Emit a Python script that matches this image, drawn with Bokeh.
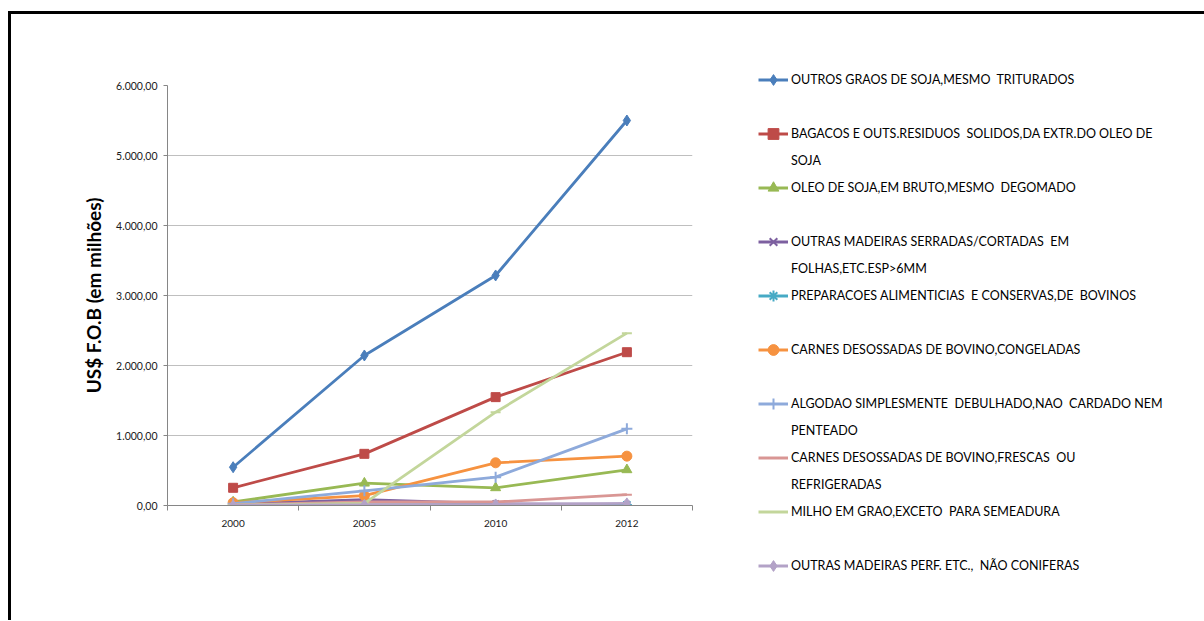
from bokeh.plotting import figure
from bokeh.models import Range1d, LinearAxis, FixedTicker, Legend, LegendItem
from bokeh.layouts import row
from bokeh.embed import file_html
from bokeh.resources import INLINE

# ---------------- data ----------------
years = ["2000", "2005", "2010", "2012"]

outros_graos = [547, 2143, 3286, 5500]
bagacos = [253, 738, 1548, 2190]
oleo_bruto = [50, 319, 253, 510]
madeiras_serradas = [20, 85, 25, 15]
preparacoes = [5, 10, 12, 8]
carnes_congeladas = [40, 140, 610, 705]
algodao = [25, 210, 405, 1095]
carnes_frescas = [10, 50, 50, 155]
milho = [5, 30, 1333, 2462]
madeiras_perf = [2, 10, 15, 30]

series_values = [outros_graos, bagacos, oleo_bruto, madeiras_serradas, preparacoes,
                 carnes_congeladas, algodao, carnes_frescas, milho, madeiras_perf]

series_labels = [
    ["OUTROS GRAOS DE SOJA,MESMO  TRITURADOS"],
    ["BAGACOS E OUTS.RESIDUOS  SOLIDOS,DA EXTR.DO OLEO DE", "SOJA"],
    ["OLEO DE SOJA,EM BRUTO,MESMO  DEGOMADO"],
    ["OUTRAS MADEIRAS SERRADAS/CORTADAS  EM", "FOLHAS,ETC.ESP>6MM"],
    ["PREPARACOES ALIMENTICIAS  E CONSERVAS,DE  BOVINOS"],
    ["CARNES DESOSSADAS DE BOVINO,CONGELADAS"],
    ["ALGODAO SIMPLESMENTE  DEBULHADO,NAO  CARDADO NEM", "PENTEADO"],
    ["CARNES DESOSSADAS DE BOVINO,FRESCAS  OU", "REFRIGERADAS"],
    ["MILHO EM GRAO,EXCETO  PARA SEMEADURA"],
    ["OUTRAS MADEIRAS PERF. ETC.,  NÃO CONIFERAS"],
]

y_ticks = [0, 1000, 2000, 3000, 4000, 5000, 6000]

# category slots: each year occupies one unit, point at the slot centre
cat_pos = [i + 0.5 for i in range(len(years))]
cat_edges = list(range(len(years) + 1))

# ---------------- styles ----------------
colors = ["#4A7EBB", "#BE4B48", "#98B954", "#7D60A0", "#46AAC5",
          "#F69240", "#8EAADB", "#D99694", "#C3D69B", "#B3A2C7"]
markers = ["diamond", "square", "triangle", "x", "asterisk",
           "circle", "cross", "dash", "dash", "diamond"]
msizes = [11, 9, 10, 9, 10, 10, 11, 10, 10, 11]

TICK_FONT = "Lato"
LEG_FONT = "Lato"


def br_fmt(v):
    s = f"{v:,.2f}"
    return s.replace(",", "X").replace(".", ",").replace("X", ".")


# ---------------- chart ----------------
p1 = figure(width=737, height=599, x_range=Range1d(0, len(years)), y_range=Range1d(0, 6000),
            x_axis_location=None, toolbar_location=None, output_backend="svg",
            min_border_left=156, min_border_right=56, min_border_top=71, min_border_bottom=108)
p1.frame_align = False
p1.outline_line_color = None
p1.xgrid.grid_line_color = None
p1.ygrid.grid_line_color = "#BFBFBF"
p1.ygrid.grid_line_width = 1
p1.ygrid.ticker = FixedTicker(ticks=y_ticks)

yax = p1.yaxis[0]
yax.ticker = FixedTicker(ticks=y_ticks, minor_ticks=[])
yax.major_label_overrides = {t: br_fmt(t) for t in y_ticks}
yax.axis_line_color = "#868686"
yax.major_tick_line_color = "#868686"
yax.major_tick_out = 4
yax.major_tick_in = 0
yax.minor_tick_line_color = None
yax.major_label_standoff = 6
yax.major_label_text_font = TICK_FONT
yax.major_label_text_font_size = "10.5px"
yax.major_label_text_color = "#1a1a1a"
yax.axis_label = "US$ F.O.B (em milhões)"
yax.axis_label_text_font = TICK_FONT
yax.axis_label_text_font_style = "bold"
yax.axis_label_text_font_size = "19px"
yax.axis_label_text_color = "#000000"
yax.axis_label_standoff = 8

xax = LinearAxis(ticker=FixedTicker(ticks=cat_pos, minor_ticks=cat_edges),
                 major_label_overrides={p: y for p, y in zip(cat_pos, years)})
xax.axis_line_color = "#868686"
xax.major_tick_line_color = None
xax.major_tick_out = 0
xax.minor_tick_line_color = "#868686"
xax.minor_tick_out = 5
xax.minor_tick_in = 0
xax.major_label_standoff = 9
xax.major_label_text_font = TICK_FONT
xax.major_label_text_font_size = "10px"
xax.major_label_text_color = "#1a1a1a"
p1.add_layout(xax, "below")

for vals, c, m, s in zip(series_values, colors, markers, msizes):
    p1.line(cat_pos, vals, line_color=c, line_width=2.8)
    p1.scatter(cat_pos, vals, marker=m, size=s, fill_color=c, line_color=c,
               line_width=2 if m in ("x", "asterisk", "cross", "dash") else 1)

# ---------------- legend panel ----------------
p2 = figure(width=448, height=599, x_range=Range1d(0, 1), y_range=Range1d(0, 1),
            x_axis_location=None, y_axis_location=None, toolbar_location=None,
            output_backend="svg", min_border_left=0, min_border_right=0,
            min_border_top=42, min_border_bottom=0)
p2.frame_align = False
p2.outline_line_color = None
p2.grid.grid_line_color = None

nan = float("nan")
items = []
blank = p2.line([nan], [nan], line_alpha=0)
for idx, (lines, c, m) in enumerate(zip(series_labels, colors, markers)):
    r_line = p2.line([nan], [nan], line_color=c, line_width=3)
    r_mark = p2.scatter([nan], [nan], marker=m, fill_color=c, line_color=c,
                        line_width=2 if m in ("x", "asterisk", "cross", "dash") else 1)
    items.append(LegendItem(label=lines[0], renderers=[r_line, r_mark]))
    if len(lines) > 1:
        items.append(LegendItem(label=lines[1], renderers=[blank]))
    elif idx < len(series_labels) - 1:
        items.append(LegendItem(label=" ", renderers=[blank]))

legend = Legend(items=items, location="top_left")
legend.glyph_width = 30
legend.glyph_height = 27
legend.label_height = 27
legend.spacing = 0
legend.label_standoff = 3
legend.padding = 7
legend.margin = 3
legend.border_line_alpha = 0
legend.background_fill_alpha = 0
legend.label_text_font = LEG_FONT
legend.label_text_font_size = "12.5px"
legend.label_text_color = "#000000"
p2.add_layout(legend)

layout = row(p1, p2, styles={"border-top": "3px solid black",
                             "border-left": "3px solid black",
                             "margin-top": "11px",
                             "margin-left": "8px",
                             "padding-right": "8px",
                             "padding-bottom": "7px"})

open("out.html", "w").write(file_html(layout, INLINE))
